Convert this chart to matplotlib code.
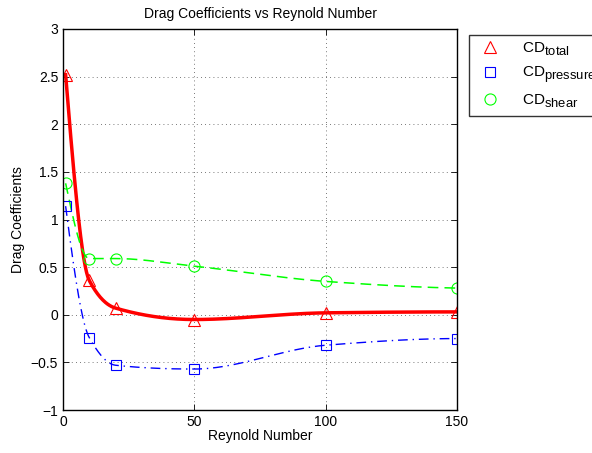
import numpy as np
import matplotlib
matplotlib.use("Agg")
import matplotlib.pyplot as plt
import matplotlib._mathtext as mt

# data
reynolds = [1, 10, 20, 50, 100, 150]
cd_total = [2.52, 0.36, 0.07, -0.05, 0.02, 0.03]
cd_pressure = [1.14, -0.24, -0.53, -0.57, -0.32, -0.25]
cd_shear = [1.38, 0.59, 0.59, 0.51, 0.35, 0.28]

# matlab style subscripts: a bit bigger and lower than mathtext default
mt.SHRINK_FACTOR = 0.85
mt.FontConstantsBase.sub1 = 0.45
mt.FontConstantsBase.sub2 = 0.6


def pchip(x, y, xs):
    # shape preserving piecewise cubic (like matlab pchip)
    x = np.asarray(x, float)
    y = np.asarray(y, float)
    h = np.diff(x)
    delta = np.diff(y) / h
    n = len(x)
    d = np.zeros(n)
    for k in range(1, n - 1):
        if delta[k - 1] * delta[k] > 0:
            w1 = 2 * h[k] + h[k - 1]
            w2 = h[k] + 2 * h[k - 1]
            d[k] = (w1 + w2) / (w1 / delta[k - 1] + w2 / delta[k])
    # end slopes
    def end_slope(h0, h1, d0, d1):
        s = ((2 * h0 + h1) * d0 - h0 * d1) / (h0 + h1)
        if np.sign(s) != np.sign(d0):
            s = 0.0
        elif np.sign(d0) != np.sign(d1) and abs(s) > abs(3 * d0):
            s = 3 * d0
        return s
    d[0] = end_slope(h[0], h[1], delta[0], delta[1])
    d[-1] = end_slope(h[-1], h[-2], delta[-1], delta[-2])

    xs = np.asarray(xs, float)
    idx = np.clip(np.searchsorted(x, xs) - 1, 0, n - 2)
    t = (xs - x[idx]) / h[idx]
    hk = h[idx]
    h00 = 2 * t**3 - 3 * t**2 + 1
    h10 = t**3 - 2 * t**2 + t
    h01 = -2 * t**3 + 3 * t**2
    h11 = t**3 - t**2
    return h00 * y[idx] + h10 * hk * d[idx] + h01 * y[idx + 1] + h11 * hk * d[idx + 1]


plt.rcParams['font.family'] = ['Liberation Sans', 'DejaVu Sans']
plt.rcParams['mathtext.default'] = 'regular'
plt.rcParams['font.size'] = 10

fig = plt.figure(figsize=(5.92, 4.53), dpi=100)
ax = fig.add_axes([63 / 592, 43 / 453, 394 / 592, 381 / 453])

xs = np.linspace(reynolds[0], reynolds[-1], 600)
green = '#00ff00'

ax.plot(xs, pchip(reynolds, cd_total, xs), color='red', lw=2.5)
ax.plot(xs, pchip(reynolds, cd_pressure, xs), color='blue', lw=1, linestyle=(0, (7, 3.5, 1, 3.5)))
ax.plot(xs, pchip(reynolds, cd_shear, xs), color=green, lw=1.1, linestyle=(0, (7, 4)))

ax.plot(reynolds, cd_total, '^', mfc='none', mec='red', ms=8, mew=0.8, label=r'CD$_{total}$')
ax.plot(reynolds, cd_pressure, 's', mfc='none', mec='blue', ms=7, mew=0.8, label=r'CD$_{pressure}$')
ax.plot(reynolds, cd_shear, 'o', mfc='none', mec=green, ms=8, mew=0.8, label=r'CD$_{shear}$')

ax.set_xlim(0, 150)
ax.set_ylim(-1, 3)
ax.set_xticks([0, 50, 100, 150])
ax.set_yticks([-1, -0.5, 0, 0.5, 1, 1.5, 2, 2.5, 3])
ax.set_yticklabels(['\u22121', '\u22120.5', '0', '0.5', '1', '1.5', '2', '2.5', '3'])
ax.tick_params(direction='in', top=True, right=True, length=4, width=0.6)
ax.grid(True, linestyle=(0, (1, 4)), color='black', lw=0.6, alpha=0.7)
for s in ax.spines.values():
    s.set_linewidth(1.0)

ax.set_title("Drag Coefficients vs Reynold Number", fontsize=10, pad=8)
ax.set_xlabel("Reynold Number", labelpad=0)
ax.set_ylabel("Drag Coefficients")

leg = fig.legend(loc='upper left', bbox_to_anchor=(469 / 592, 1 - 35 / 453),
                 borderaxespad=0, frameon=True, fancybox=False, edgecolor='black',
                 handletextpad=1.1, borderpad=0.35, labelspacing=0.45, fontsize=11)
leg.get_frame().set_linewidth(1.0)

fig.savefig("out.png", dpi=100)
